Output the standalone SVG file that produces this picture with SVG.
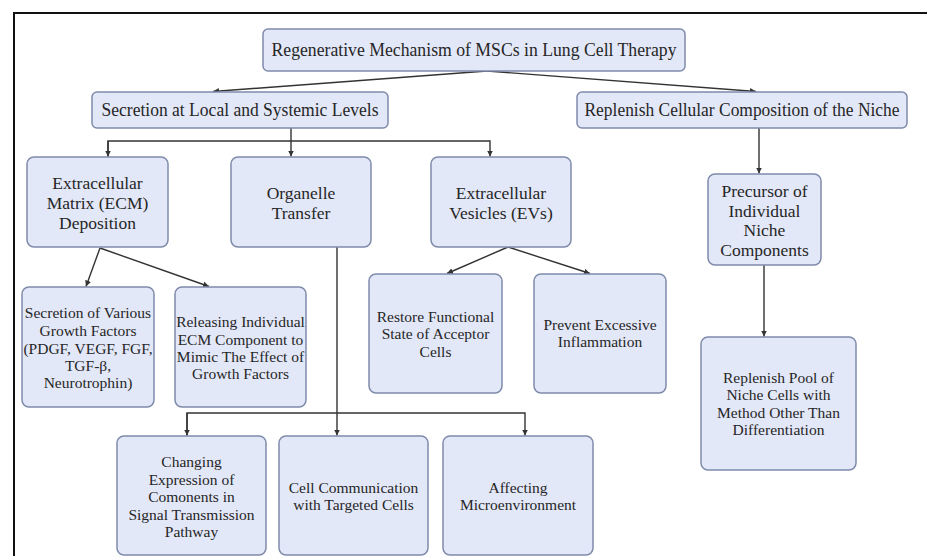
<svg xmlns="http://www.w3.org/2000/svg" width="927" height="556" viewBox="0 0 927 556" font-family="'Liberation Serif', serif">
<style>
.box{fill:#e3e8f8;stroke:#7f8bab;stroke-width:1.5}
text{font-family:'Liberation Serif','Times New Roman',serif;fill:#262626;text-anchor:middle}
.t1{font-size:18.5px}
.t2{font-size:17.5px}
.t3{font-size:15.5px}
.c{fill:none;stroke:#333;stroke-width:1.4}
</style>
<defs>
<marker id="ah" viewBox="0 0 10 10" refX="10" refY="5" markerWidth="6" markerHeight="6" markerUnits="userSpaceOnUse" orient="auto">
<path d="M0,0 L10,5 L0,10 z" fill="#333"/>
</marker>
</defs>
<rect width="927" height="556" fill="#fff"/>
<path d="M14,560 V13 H930" fill="none" stroke="#111" stroke-width="2"/>
<g id="connectors">
<path class="c" d="M487,71 L213,91.5" marker-end="url(#ah)"/>
<path class="c" d="M487,71 L756,91.5" marker-end="url(#ah)"/>
<path class="c" d="M291,128 V156.5"  marker-end="url(#ah)"/>
<path class="c" d="M108,156.5 V141 H490 V156.5" marker-end="url(#ah)"/>
<path class="c" d="M108,141 V156.5" marker-end="url(#ah)"/>
<path class="c" d="M759,128 V173.5" marker-end="url(#ah)"/>
<path class="c" d="M100,248 L86,286.5" marker-end="url(#ah)"/>
<path class="c" d="M100,248 L209,286.5" marker-end="url(#ah)"/>
<path class="c" d="M337,247 V435.5" marker-end="url(#ah)"/>
<path class="c" d="M187,435.5 V413 H525 V435.5" marker-end="url(#ah)"/>
<path class="c" d="M187,413 V435.5" marker-end="url(#ah)"/>
<path class="c" d="M508,247 L447,273.5" marker-end="url(#ah)"/>
<path class="c" d="M508,247 L590,273.5" marker-end="url(#ah)"/>
<path class="c" d="M764,265 V336.5" marker-end="url(#ah)"/>
</g>
<g id="root">
<rect class="box" x="263" y="29" width="422" height="42" rx="5"/>
<text class="t1" x="474" y="56" textLength="405" lengthAdjust="spacingAndGlyphs">Regenerative Mechanism of MSCs in Lung Cell Therapy</text>
</g>
<g id="secretion">
<rect class="box" x="92" y="92" width="296" height="36" rx="5"/>
<text class="t1" x="240" y="116" textLength="277" lengthAdjust="spacingAndGlyphs">Secretion at Local and Systemic Levels</text>
</g>
<g id="replenish">
<rect class="box" x="577" y="92" width="330" height="36" rx="5"/>
<text class="t1" x="742" y="116" textLength="315" lengthAdjust="spacingAndGlyphs">Replenish Cellular Composition of the Niche</text>
</g>
<g id="ecm">
<rect class="box" x="27" y="157" width="141" height="90" rx="7"/>
<text class="t2" x="97.5" y="189">Extracellular</text>
<text class="t2" x="97.5" y="209">Matrix (ECM)</text>
<text class="t2" x="97.5" y="229">Deposition</text>
</g>
<g id="organelle">
<rect class="box" x="231" y="157" width="140" height="90" rx="7"/>
<text class="t2" x="301" y="199">Organelle</text>
<text class="t2" x="301" y="219">Transfer</text>
</g>
<g id="evs">
<rect class="box" x="431" y="157" width="140" height="90" rx="7"/>
<text class="t2" x="501" y="199">Extracellular</text>
<text class="t2" x="501" y="219">Vesicles (EVs)</text>
</g>
<g id="precursor">
<rect class="box" x="708" y="174" width="113" height="91" rx="7"/>
<text class="t2" x="764.5" y="197">Precursor of</text>
<text class="t2" x="764.5" y="217">Individual</text>
<text class="t2" x="764.5" y="236">Niche</text>
<text class="t2" x="764.5" y="256">Components</text>
</g>
<g id="growth-factors">
<rect class="box" x="22" y="287" width="132" height="120" rx="7"/>
<text class="t3" x="88" y="318">Secretion of Various</text>
<text class="t3" x="88" y="336">Growth Factors</text>
<text class="t3" x="88" y="354">(PDGF, VEGF, FGF,</text>
<text class="t3" x="88" y="371">TGF-β,</text>
<text class="t3" x="88" y="388">Neurotrophin)</text>
</g>
<g id="releasing">
<rect class="box" x="175" y="287" width="131" height="120" rx="7"/>
<text class="t3" x="240.5" y="327">Releasing Individual</text>
<text class="t3" x="240.5" y="345">ECM Component to</text>
<text class="t3" x="240.5" y="362">Mimic The Effect of</text>
<text class="t3" x="240.5" y="379">Growth Factors</text>
</g>
<g id="restore">
<rect class="box" x="369" y="274" width="133" height="119" rx="7"/>
<text class="t3" x="435.5" y="322">Restore Functional</text>
<text class="t3" x="435.5" y="339">State of Acceptor</text>
<text class="t3" x="435.5" y="357">Cells</text>
</g>
<g id="prevent">
<rect class="box" x="534" y="274" width="132" height="119" rx="7"/>
<text class="t3" x="600" y="330">Prevent Excessive</text>
<text class="t3" x="600" y="347">Inflammation</text>
</g>
<g id="pool">
<rect class="box" x="701" y="337" width="155" height="133" rx="7"/>
<text class="t3" x="778.5" y="383">Replenish Pool of</text>
<text class="t3" x="778.5" y="400">Niche Cells with</text>
<text class="t3" x="778.5" y="418">Method Other Than</text>
<text class="t3" x="778.5" y="435">Differentiation</text>
</g>
<g id="changing">
<rect class="box" x="117" y="436" width="149" height="119" rx="7"/>
<text class="t3" x="191.5" y="467">Changing</text>
<text class="t3" x="191.5" y="485">Expression of</text>
<text class="t3" x="191.5" y="502">Comonents in</text>
<text class="t3" x="191.5" y="520">Signal Transmission</text>
<text class="t3" x="191.5" y="537">Pathway</text>
</g>
<g id="cell-communication">
<rect class="box" x="279" y="436" width="149" height="119" rx="7"/>
<text class="t3" x="353.5" y="493">Cell Communication</text>
<text class="t3" x="353.5" y="510">with Targeted Cells</text>
</g>
<g id="microenvironment">
<rect class="box" x="443" y="436" width="150" height="119" rx="7"/>
<text class="t3" x="518" y="493">Affecting</text>
<text class="t3" x="518" y="510">Microenvironment</text>
</g>
</svg>
